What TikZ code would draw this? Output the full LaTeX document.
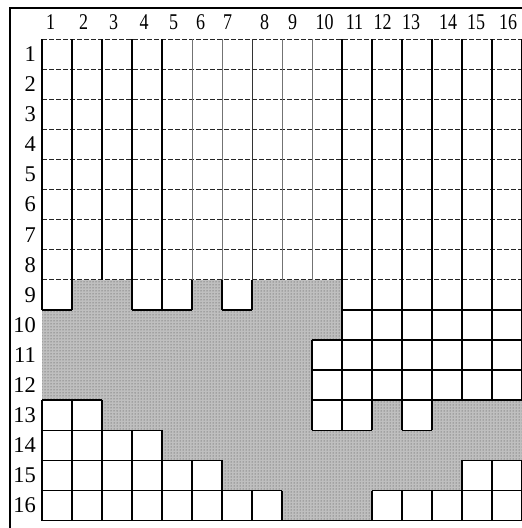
\documentclass[tikz,border=0pt]{standalone}
\usepackage{fontspec}
\setmainfont{Liberation Serif}
\usetikzlibrary{patterns}
\begin{document}
\begin{tikzpicture}[
  thickv/.style={line width=1.8pt, black},
  medv/.style={line width=1.3pt, black},
  thinv/.style={line width=1pt, black!80},
  greyv/.style={line width=1pt, black!55},
  hdash/.style={line width=0.8pt, black!85, dash pattern=on 5pt off 2pt},
  solidh/.style={line width=1.6pt, black},
  frame/.style={line width=1.5pt, black},
  shadefill/.style={fill=black!25},
  shadedots/.style={pattern=dots, pattern color=black!75},
  lab/.style={font=\fontsize{22.5}{22.5}\selectfont, inner sep=0pt},
]
\useasboundingbox (0pt,0pt) rectangle (522pt,-528pt);
\fill[white] (0pt,0pt) rectangle (522pt,-528pt);
\draw[frame] (10pt,-532pt) -- (10pt,-8pt) -- (530pt,-8pt);

% column labels
\foreach \i/\x in {1/50.5,2/83.5,3/113.5,4/144,5/173.5,6/200.5,7/227.5,8/264.5,9/292.5,10/324.5,11/354.5,12/382.5,13/411,14/448,15/476,16/508}
  \node[lab] (c\i) at (\x pt,-22pt) {\scalebox{0.8}[1]{\i}};

\begin{scope}[shift={(42pt,-39pt)}, x=30pt, y=-30.1pt]
% row labels
\foreach \i in {1,...,16}
  \node[lab, anchor=east] (r\i) at (-0.2,\i-0.5) {\i};

% shaded region
\def\shadepath{(1,8) -- (3,8) -- (3,9) -- (5,9) -- (5,8) -- (6,8) -- (6,9) -- (7,9) -- (7,8) -- (10,8) -- (10,10) -- (9,10) -- (9,13) -- (11,13) -- (11,12) -- (12,12) -- (12,13) -- (13,13) -- (13,12) -- (16,12) -- (16,14) -- (14,14) -- (14,15) -- (11,15) -- (11,16) -- (8,16) -- (8,15) -- (6,15) -- (6,14) -- (4,14) -- (4,13) -- (2,13) -- (2,12) -- (0,12) -- (0,9) -- (1,9) -- cycle}
\fill[shadefill] \shadepath;
\fill[shadedots] \shadepath;

% dashed horizontal lines, rows 1-9
\foreach \r in {0,...,8}
  \draw[hdash] (0,\r) -- (16,\r);

% vertical lines, rows 1-8
\foreach \k/\s in {0/thickv,1/medv,2/thickv,3/thickv,4/thickv,5/greyv,6/greyv,7/thinv,8/greyv,9/greyv,10/thickv,11/thickv,12/thickv,13/thickv,14/thickv,15/thickv,16/thickv}
  \draw[\s] (\k,0) -- (\k,8);

% vertical lines, row 9
\foreach \k in {0,1,3,4,5,6,7,10,11,12,13,14,15,16}
  \draw[thickv] (\k,8) -- (\k,9);

% vertical lines, rows 10-16
\foreach \k/\a/\b in {0/12/16,1/12/16,2/12/16,3/13/16,4/13/16,5/14/16,6/14/16,7/15/16,8/15/16,9/10/13,10/9/13,11/9/13,11/15/16,12/9/13,12/15/16,13/9/13,13/15/16,14/9/12,14/14/16,15/9/12,15/14/16,16/9/12,16/14/16}
  \draw[thickv] (\k,\a) -- (\k,\b);

% solid horizontal lines
\foreach \y/\a/\b in {9/0/1,9/3/5,9/6/7,9/10/16,10/9/16,11/9/16,12/0/2,12/9/16,13/0/4,13/9/11,13/12/13,14/0/6,14/14/16,15/0/8,15/11/16,16/0/16}
  \draw[solidh] (\a,\y) -- (\b,\y);
\end{scope}
\end{tikzpicture}
\end{document}
